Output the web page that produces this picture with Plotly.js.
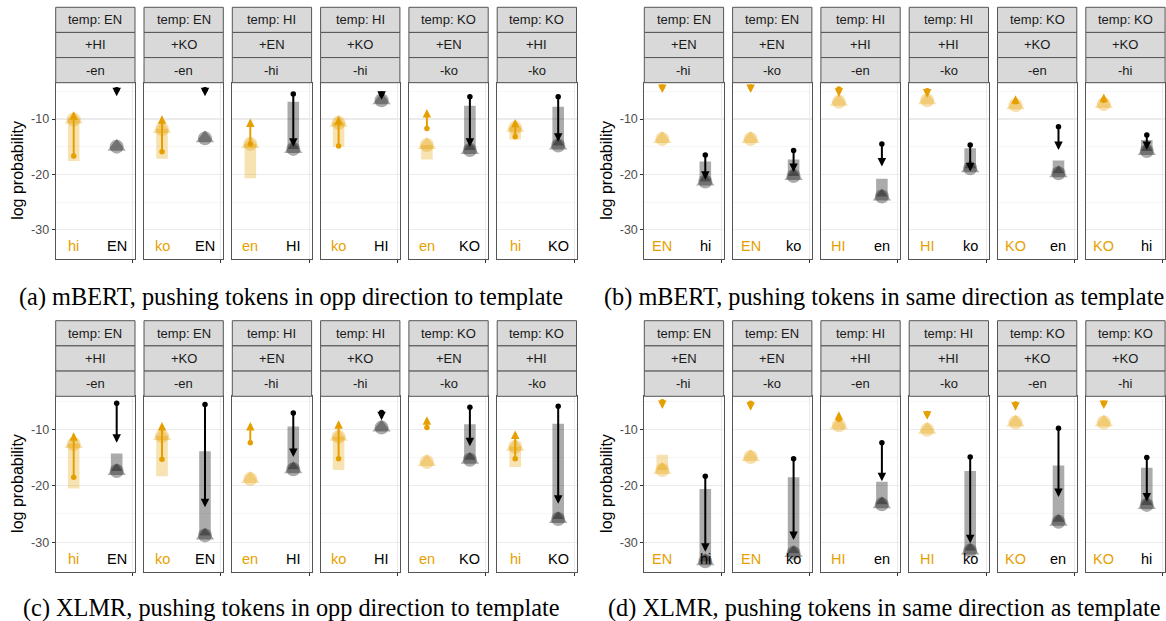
<!DOCTYPE html>
<html><head><meta charset="utf-8">
<script src="https://cdn.plot.ly/plotly-3.0.1.min.js"></script>
<style>html,body{margin:0;padding:0;background:#fff}#chart{width:1166px;height:621px}</style>
</head><body><div id="chart"></div>
<script>
// ---------- labels ----------
const tempOpp   = ['temp: EN','temp: EN','temp: HI','temp: HI','temp: KO','temp: KO'];
const plusOpp   = ['+HI','+KO','+EN','+KO','+EN','+HI'];
const minusOpp  = ['-en','-en','-hi','-hi','-ko','-ko'];
const catOrangeOpp = ['hi','ko','en','ko','en','hi'];
const catBlackOpp  = ['EN','EN','HI','HI','KO','KO'];

const tempSame  = ['temp: EN','temp: EN','temp: HI','temp: HI','temp: KO','temp: KO'];
const plusSame  = ['+EN','+EN','+HI','+HI','+KO','+KO'];
const minusSame = ['-hi','-ko','-en','-ko','-en','-hi'];
const catOrangeSame = ['EN','EN','HI','HI','KO','KO'];
const catBlackSame  = ['hi','ko','en','ko','en','hi'];

const captions = [
  '(a) mBERT, pushing tokens in opp direction to template',
  '(b) mBERT, pushing tokens in same direction as template',
  '(c) XLMR, pushing tokens in opp direction to template',
  '(d) XLMR, pushing tokens in same direction as template'
];
const yTickVals = [-30,-20,-10];
const yMinorVals = [-25,-15,-5];

// ---------- panel (a) mBERT opp ----------
const aOrangeStart = [-17.6,-17.2,-20.7,-15.0,-17.3,-13.7];
const aOrangeMark  = [-10.1,-11.8,-14.5,-10.7,-14.7,-11.6];
const aOrangeFrom  = [-16.7,-15.9,-14.5,-14.9,-11.7,-13.2];
const aOrangeTo    = [-8.6,-9.3,-9.9,-9.5,-8.2,-10.0];
const aBlackStart  = [null,null,-6.9,null,-7.6,-7.8];
const aBlackMark   = [-15.0,-13.5,-15.4,-6.6,-15.6,-14.8];
const aBlackFrom   = [-4.7,-4.7,-5.5,-5.5,-6.0,-6.0];
const aBlackTo     = [-5.9,-5.9,-15.0,-6.5,-15.0,-14.1];

// ---------- panel (b) mBERT same ----------
const bOrangeStart = [null,null,null,null,null,null];
const bOrangeMark  = [-13.6,-13.6,-6.9,-6.6,-7.5,-7.3];
const bOrangeFrom  = [-4.2,-4.2,-4.6,-4.9,-6.9,-6.6];
const bOrangeTo    = [-5.3,-5.3,-6.0,-6.1,-5.7,-5.4];
const bBlackStart  = [-17.7,-17.3,-20.8,-15.3,-17.5,-13.8];
const bBlackMark   = [-21.3,-20.3,-24.0,-18.9,-19.8,-15.8];
const bBlackFrom   = [-16.5,-15.7,-14.5,-14.7,-11.4,-12.9];
const bBlackTo     = [-21.0,-19.6,-18.6,-19.5,-15.6,-15.6];

// ---------- panel (c) XLMR opp ----------
const cOrangeStart = [-20.5,-18.3,null,-17.2,null,-16.7];
const cOrangeMark  = [-12.6,-11.2,-18.8,-11.3,-15.8,-13.1];
const cOrangeFrom  = [-18.5,-15.3,-12.4,-15.2,-9.7,-15.2];
const cOrangeTo    = [-10.5,-8.7,-8.7,-8.4,-7.7,-10.2];
const cBlackStart  = [-14.3,-13.9,-9.5,null,-9.1,-9.0];
const cBlackMark   = [-17.4,-28.8,-17.1,-9.7,-15.4,-25.9];
const cBlackFrom   = [-5.4,-5.6,-7.1,-7.0,-6.1,-5.9];
const cBlackTo     = [-12.4,-23.8,-14.9,-8.4,-13.0,-23.2];

// ---------- panel (d) XLMR same ----------
const dOrangeStart = [-14.5,null,null,null,null,null];
const dOrangeMark  = [-17.2,-14.9,-9.3,-10.1,-8.8,-8.8];
const dOrangeFrom  = [-5.1,-5.4,-8.2,-7.2,-5.5,-5.4];
const dOrangeTo    = [-6.4,-6.7,-6.8,-8.3,-6.7,-6.4];
const dBlackStart  = [-20.6,-18.5,-19.3,-17.4,-16.4,-16.8];
const dBlackMark   = [-33.4,-31.9,-23.3,-31.5,-26.4,-23.4];
const dBlackFrom   = [-18.3,-15.2,-12.4,-14.9,-9.8,-15.0];
const dBlackTo     = [-31.7,-29.6,-19.2,-30.2,-22.0,-22.8];

// ---------- assemble ----------
const W = 1166, H = 621;
const ORANGE = '#E69F00';
const panels = [
  {temp:tempOpp, plus:plusOpp, minus:minusOpp, co:catOrangeOpp, cb:catBlackOpp,
   os:aOrangeStart, om:aOrangeMark, of:aOrangeFrom, ot:aOrangeTo,
   bs:aBlackStart, bm:aBlackMark, bf:aBlackFrom, bt:aBlackTo,
   x0:55.7, stripTop:7.3, top:82.7, bot:259, yr:[-35.3,-3.44], ytx:18, capX:291, capY:297},
  {temp:tempSame, plus:plusSame, minus:minusSame, co:catOrangeSame, cb:catBlackSame,
   os:bOrangeStart, om:bOrangeMark, of:bOrangeFrom, ot:bOrangeTo,
   bs:bBlackStart, bm:bBlackMark, bf:bBlackFrom, bt:bBlackTo,
   x0:644.3, stripTop:7.3, top:82.7, bot:259, yr:[-35.3,-3.44], ytx:607, capX:884, capY:297},
  {temp:tempOpp, plus:plusOpp, minus:minusOpp, co:catOrangeOpp, cb:catBlackOpp,
   os:cOrangeStart, om:cOrangeMark, of:cOrangeFrom, ot:cOrangeTo,
   bs:cBlackStart, bm:cBlackMark, bf:cBlackFrom, bt:cBlackTo,
   x0:55.7, stripTop:320.7, top:396.3, bot:571.5, yr:[-35.2,-4.15], ytx:18, capX:291, capY:608},
  {temp:tempSame, plus:plusSame, minus:minusSame, co:catOrangeSame, cb:catBlackSame,
   os:dOrangeStart, om:dOrangeMark, of:dOrangeFrom, ot:dOrangeTo,
   bs:dBlackStart, bm:dBlackMark, bf:dBlackFrom, bt:dBlackTo,
   x0:644.3, stripTop:320.7, top:396.3, bot:571.5, yr:[-35.2,-4.15], ytx:607, capX:884, capY:608}
];

const facetW = 79.3, facetStep = 88.3;
const xRange = [0.581, 2.426];
const traces = [], shapes = [], annotations = [];
const layout = {
  width: W, height: H, margin: {l:0, r:0, t:0, b:0},
  paper_bgcolor: '#fff', plot_bgcolor: '#fff', showlegend: false,
  barmode: 'overlay', font: {family: 'Liberation Sans, Arial, sans-serif'}
};
const px = v => v / W, py = v => 1 - v / H;

panels.forEach((P, p) => {
  for (let f = 0; f < 6; f++) {
    const idx = p * 6 + f + 1;
    const xs = idx === 1 ? '' : String(idx);
    const xr = 'x' + xs, yr = 'y' + xs;
    const left = P.x0 + f * facetStep;
    layout['xaxis' + xs] = {
      domain: [px(left), px(left + facetW)], anchor: yr, range: xRange,
      tickvals: [2.37], showticklabels: false, ticks: 'outside', ticklen: 3,
      tickcolor: '#333', tickwidth: 1,
      showgrid: true, gridcolor: '#ebebeb', gridwidth: 1, zeroline: false,
      showline: true, mirror: true, linecolor: '#555', linewidth: 1, fixedrange: true
    };
    layout['yaxis' + xs] = {
      domain: [py(P.bot), py(P.top)], anchor: xr, range: P.yr,
      tickvals: yTickVals, ticktext: yTickVals.map(String),
      showticklabels: f === 0, ticks: f === 0 ? 'outside' : '', ticklen: 3,
      tickcolor: '#333', tickwidth: 1,
      tickfont: {size: 12.5, color: '#4d4d4d'},
      showgrid: true, gridcolor: '#ebebeb', gridwidth: 1.1, zeroline: false,
      minor: {tickvals: yMinorVals, showgrid: true, gridcolor: '#f2f2f2', gridwidth: 0.7, ticks: ''},
      showline: true, mirror: true, linecolor: '#555', linewidth: 1, fixedrange: true
    };

    const groups = [
      {x: 1, s: P.os[f], m: P.om[f], fr: P.of[f], to: P.ot[f], bar: 'rgba(230,159,0,0.30)', mk: 'rgba(230,159,0,0.32)', line: ORANGE},
      {x: 2, s: P.bs[f], m: P.bm[f], fr: P.bf[f], to: P.bt[f], bar: 'rgba(0,0,0,0.33)', mk: 'rgba(0,0,0,0.33)', line: '#000'}
    ];
    // bars
    groups.forEach(g => {
      if (g.s !== null) {
        traces.push({type: 'bar', x: [g.x], base: [g.s], y: [g.m - g.s], width: [0.27],
          marker: {color: g.bar, line: {width: 0}}, xaxis: xr, yaxis: yr, hoverinfo: 'skip'});
      }
    });
    // composite markers (triangle + circle)
    traces.push({type: 'scatter', mode: 'markers', x: [1, 2], y: [P.om[f], P.bm[f]],
      marker: {symbol: 'triangle-up', size: 16, color: [groups[0].mk, groups[1].mk], line: {width: 0}},
      xaxis: xr, yaxis: yr, hoverinfo: 'skip'});
    traces.push({type: 'scatter', mode: 'markers', x: [1, 2], y: [P.om[f], P.bm[f]],
      marker: {symbol: 'circle', size: 14, color: [groups[0].mk, groups[1].mk], line: {width: 0}},
      xaxis: xr, yaxis: yr, hoverinfo: 'skip'});
    // arrow tails
    traces.push({type: 'scatter', mode: 'markers', x: [1, 2], y: [P.of[f], P.bf[f]],
      marker: {symbol: 'circle', size: 5.5, color: [ORANGE, '#000'], line: {width: 0}},
      xaxis: xr, yaxis: yr, hoverinfo: 'skip'});
    groups.forEach(g => {
      annotations.push({xref: xr, yref: yr, axref: xr, ayref: yr, x: g.x, y: g.to, ax: g.x, ay: g.fr,
        text: '', showarrow: true, arrowhead: 2, arrowsize: 0.85, arrowwidth: 2, arrowcolor: g.line, standoff: 0});
    });
    // category labels
    annotations.push({xref: xr, yref: yr + ' domain', x: 1, y: 0.073, text: P.co[f], showarrow: false,
      font: {size: 14.5, color: ORANGE}, xanchor: 'center', yanchor: 'middle'});
    annotations.push({xref: xr, yref: yr + ' domain', x: 2, y: 0.073, text: P.cb[f], showarrow: false,
      font: {size: 14.5, color: '#000'}, xanchor: 'center', yanchor: 'middle'});

    // strips
    const rowH = (P.top - P.stripTop) / 3;
    [P.temp[f], P.plus[f], P.minus[f]].forEach((t, k) => {
      const y0 = P.stripTop + k * rowH, y1 = y0 + rowH;
      shapes.push({type: 'rect', xref: 'paper', yref: 'paper', x0: px(left), x1: px(left + facetW),
        y0: py(y1), y1: py(y0), fillcolor: '#d9d9d9', line: {color: '#555', width: 1}, layer: 'above'});
      annotations.push({xref: 'paper', yref: 'paper', x: px(left + facetW / 2), y: py((y0 + y1) / 2),
        text: t, showarrow: false, font: {size: 13, color: '#1a1a1a'}, xanchor: 'center', yanchor: 'middle'});
    });
  }
  annotations.push({xref: 'paper', yref: 'paper', x: px(P.ytx), y: py((P.top + P.bot) / 2),
    text: 'log probability', textangle: -90, showarrow: false,
    font: {size: 16, color: '#000'}, xanchor: 'center', yanchor: 'middle'});
  annotations.push({xref: 'paper', yref: 'paper', x: px(P.capX), y: py(P.capY),
    text: captions[p], showarrow: false,
    font: {size: 24.3, color: '#000', family: 'Liberation Serif, Times New Roman, serif'},
    xanchor: 'center', yanchor: 'middle'});
});

layout.shapes = shapes;
layout.annotations = annotations;
Plotly.newPlot('chart', traces, layout, {staticPlot: true, displayModeBar: false});
</script>
</body></html>
